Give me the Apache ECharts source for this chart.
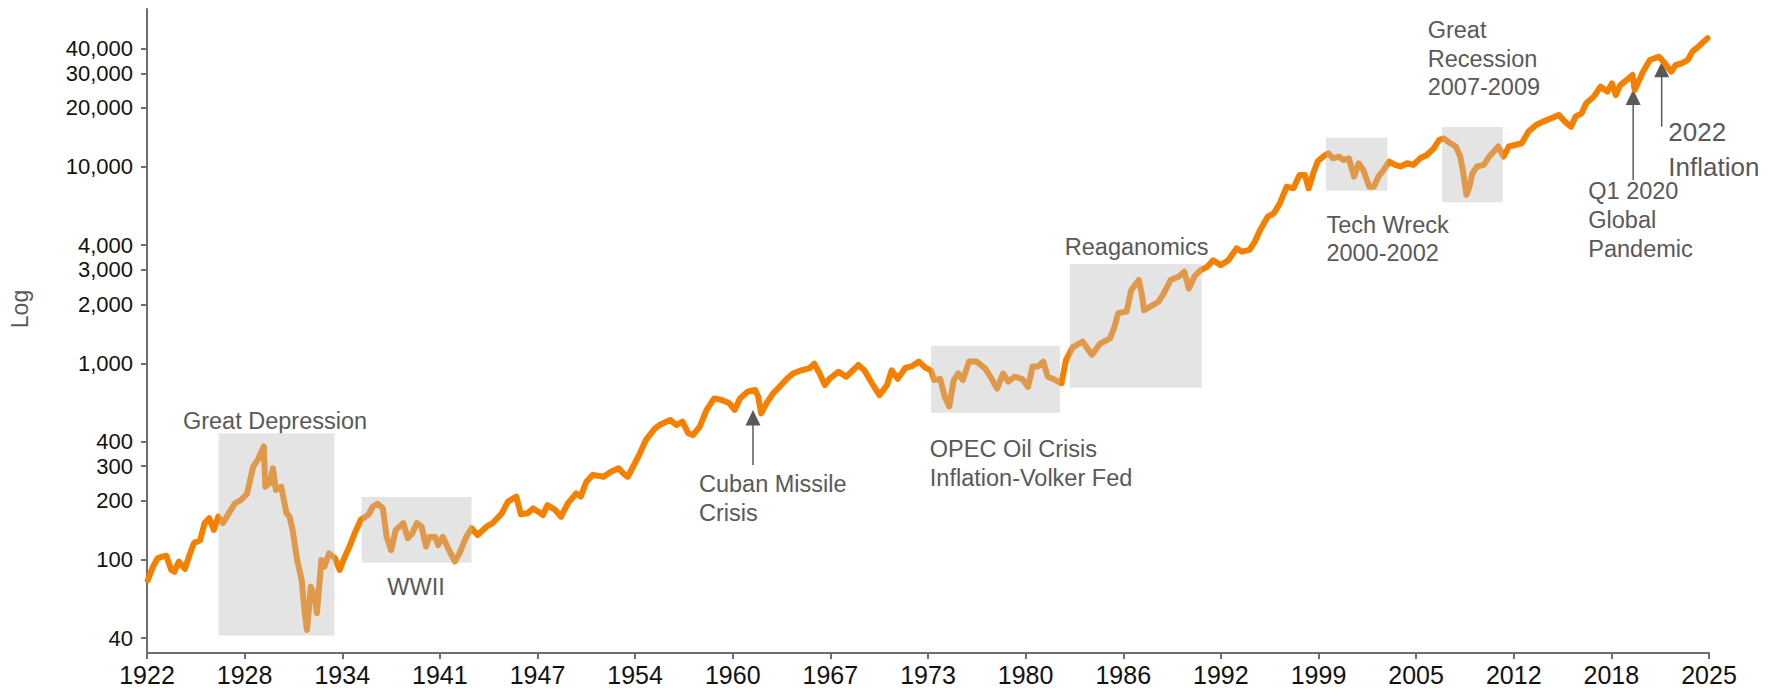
<!DOCTYPE html>
<html><head><meta charset="utf-8">
<script src="https://cdn.jsdelivr.net/npm/echarts@6/dist/echarts.min.js"></script>
<style>html,body{margin:0;padding:0;background:#fff}#c{width:1781px;height:692px}</style>
</head><body><div id="c"></div>
<script>
const years = [
1922.05,1922.4,1922.7,1923.0,1923.27,1923.6,1923.8,1924.1,1924.5,1924.8,
1925.1,1925.5,1925.8,1926.1,1926.4,1926.7,1927.0,1927.4,1927.8,1928.2,
1928.6,1929.0,1929.3,1929.7,1929.8,1930.1,1930.3,1930.5,1930.85,1931.2,
1931.4,1931.6,1931.9,1932.2,1932.4,1932.55,1932.8,1933.05,1933.2,1933.5,
1933.7,1934.0,1934.4,1934.7,1935.0,1935.35,1935.7,1936.1,1936.6,1936.9,
1937.2,1937.55,1937.8,1938.1,1938.4,1938.9,1939.2,1939.5,1939.8,1940.1,
1940.4,1940.6,1941.0,1941.2,1941.5,1941.8,1942.3,1942.6,1943.05,1943.4,
1943.8,1944.4,1944.8,1945.4,1945.8,1946.35,1946.65,1947.1,1947.45,1947.8,
1948.1,1948.4,1948.9,1949.3,1949.75,1950.3,1950.6,1950.97,1951.4,1952.1,
1952.6,1953.1,1953.4,1953.7,1954.05,1954.5,1954.9,1955.5,1955.8,1956.5,
1956.9,1957.3,1957.7,1958.0,1958.45,1958.9,1959.4,1959.9,1960.4,1960.75,
1961.1,1961.6,1962.1,1962.3,1962.5,1962.85,1963.3,1963.7,1964.2,1964.6,
1965.15,1965.7,1966.0,1966.35,1966.7,1967.0,1967.6,1968.1,1968.55,1968.9,
1969.3,1969.8,1970.3,1970.8,1971.1,1971.5,1972.0,1972.4,1972.9,1973.3,
1973.7,1973.9,1974.3,1974.6,1974.9,1975.2,1975.5,1975.8,1976.2,1976.7,
1977.25,1977.7,1978.05,1978.45,1978.8,1979.2,1979.7,1980.1,1980.4,1980.75,
1981.1,1981.4,1981.75,1982.3,1982.6,1983.05,1983.7,1984.3,1984.85,1985.5,
1985.8,1986.05,1986.6,1986.9,1987.4,1987.6,1987.75,1988.15,1988.7,1989.0,
1989.5,1990.05,1990.4,1990.7,1991.1,1991.5,1991.9,1992.3,1992.8,1993.3,
1993.85,1994.2,1994.7,1995.05,1995.4,1995.9,1996.3,1996.7,1997.15,1997.6,
1998.0,1998.35,1998.6,1998.9,1999.2,1999.6,1999.9,2000.2,2000.6,2000.9,
2001.25,2001.6,2001.9,2002.2,2002.6,2002.9,2003.2,2003.55,2003.9,2004.3,
2004.65,2005.1,2005.5,2005.95,2006.4,2006.85,2007.2,2007.5,2007.95,2008.3,
2008.6,2008.8,2009.0,2009.2,2009.4,2009.7,2010.15,2010.5,2010.8,2011.1,
2011.45,2011.8,2012.2,2012.65,2013.1,2013.6,2014.05,2014.6,2015.1,2015.5,
2015.9,2016.2,2016.6,2016.9,2017.4,2017.85,2018.3,2018.6,2018.85,2019.15,
2019.7,2019.95,2020.1,2020.3,2020.65,2021.1,2021.7,2022.0,2022.5,2022.8,
2023.2,2023.6,2023.9,2024.3,2024.65,2024.9
];
const values = [
79,92.5,102,104,105,89,87,98,90,106,
122,126,154,163,142,166,154,173,194,202,
218,298,323,378,236,246,293,227,236,173,
166,142,100,79,53.6,44,73,65,53.6,100,
92.5,108,102,89,102,117,137,160,170,187,
193,183,131,112,142,154,129,137,154,148,
117,131,131,119,131,117,98,108,131,145,
134,148,154,173,198,210,171,173,183,176,
169,190,180,166,194,218,210,250,271,265,
281,293,276,265,298,349,408,467,486,516,
486,506,441,432,477,580,664,652,627,580,
664,718,733,678,557,627,706,760,835,889,
923,948,997,889,777,835,908,856,923,982,
923,793,690,777,923,835,948,966,1022,955,
920,823,835,678,604,823,889,823,1022,1022,
948,835,745,889,809,856,835,760,966,966,
1022,856,835,793,1042,1212,1292,1106,1263,1342,
1537,1805,1840,2360,2660,2240,1866,1945,2062,2240,
2660,2770,2930,2405,2800,2990,3100,3350,3160,3350,
3856,3707,3785,4170,4775,5585,5810,6530,7940,7790,
9100,9100,7790,9290,10700,11370,11750,11070,11280,10860,
11070,8930,10450,9660,7940,7940,8930,9660,10640,10250,
10060,10450,10250,11070,11510,12450,13720,13980,13210,12710,
11280,9290,7210,7940,9290,10060,10250,11280,11960,12710,
11280,12710,12940,13210,15140,16370,17020,17700,18400,17020,
16030,18030,18750,21100,22800,25620,24170,26660,23230,26120,
28250,29400,24660,26660,30550,35060,36430,34360,30550,33050,
33720,35060,38640,40970,43450,45200
];
const xTickLabels = ['1922','1928','1934','1941','1947','1954','1960','1967','1973','1980','1986','1992','1999','2005','2012','2018','2025'];
const yTickValues = [40,100,200,300,400,1000,2000,3000,4000,10000,20000,30000,40000];
// shaded periods: [startYear, endYear, low, high]
const periods = [
  [1926.72, 1934.37, 41.2, 441],
  [1936.15, 1943.4, 96.9, 209],
  [1973.7, 1982.2, 562, 1227],
  [1982.85, 1991.55, 753, 3206],
  [1999.74, 2003.8, 7570, 14090],
  [2007.4, 2011.4, 6610, 15980]
];
const notes = [
  {text:'Great Depression', year:1930.44, value:510, align:'center', va:'middle'},
  {text:'WWII', year:1939.74, value:72.9, align:'center', va:'middle'},
  {text:'Cuban Missile\nCrisis', year:1958.4, value:288, align:'left', va:'top'},
  {text:'OPEC Oil Crisis\nInflation-Volker Fed', year:1973.62, value:432.6, align:'left', va:'top'},
  {text:'Reaganomics', year:1982.52, value:3926, align:'left', va:'middle'},
  {text:'Tech Wreck\n2000-2002', year:1999.77, value:6006, align:'left', va:'top'},
  {text:'Great\nRecession\n2007-2009', year:2006.45, value:58830, align:'left', va:'top'},
  {text:'Q1 2020\nGlobal\nPandemic', year:2017.04, value:8893, align:'left', va:'top'},
  {text:'2022\nInflation', year:2022.32, value:18565, align:'left', va:'top', big:true}
];
const arrows = [
  {year:1961.96, from:304.5, to:580},
  {year:2020.0, from:8590, to:24830},
  {year:2021.88, from:16030, to:34360}
];

const X_MIN = 1922, X_MAX = 2025;
const step = (X_MAX - X_MIN) / (xTickLabels.length - 1);
const xTickPos = xTickLabels.map((_, i) => X_MIN + i * step);
const FONT = '"Liberation Sans", Arial, sans-serif';
const ORANGE = '#F58000', MUTED = '#E0994B', GRAY_TXT = '#595959';

const chart = echarts.init(document.getElementById('c'), null, {renderer: 'svg'});
chart.setOption({
  animation: false,
  backgroundColor: '#fff',
  grid: {left: 147, right: 72, top: 9, bottom: 39, containLabel: false},
  xAxis: {
    type: 'value', min: X_MIN, max: X_MAX,
    axisLine: {onZero: false, lineStyle: {color: '#6e6e6e', width: 2}},
    axisTick: {show: true, length: 6, customValues: xTickPos, lineStyle: {color: '#6e6e6e', width: 2}},
    axisLabel: {customValues: xTickPos, margin: 9, color: '#111', fontSize: 25, fontFamily: FONT,
      formatter: v => xTickLabels[Math.round((v - X_MIN) / step)]},
    splitLine: {show: false}
  },
  yAxis: {
    type: 'log', logBase: 10, min: 33.6, max: 63700,
    axisLine: {show: true, lineStyle: {color: '#6e6e6e', width: 2}},
    axisTick: {show: true, length: 6, customValues: yTickValues, lineStyle: {color: '#6e6e6e', width: 2}},
    axisLabel: {customValues: yTickValues, margin: 14, color: '#111', fontSize: 22, fontFamily: FONT,
      formatter: v => Math.round(v).toLocaleString('en-US')},
    splitLine: {show: false}, minorTick: {show: false}
  },
  visualMap: {
    type: 'piecewise', show: false, dimension: 0, seriesIndex: 1,
    pieces: periods.map(p => ({gte: p[0], lte: p[1], color: MUTED})),
    outOfRange: {color: ORANGE}
  },
  series: [
    {
      type: 'custom', z: 1, silent: true,
      data: periods,
      encode: {x: [0, 1], y: [2, 3]},
      renderItem: (params, api) => {
        const a = api.coord([api.value(0), api.value(3)]);
        const b = api.coord([api.value(1), api.value(2)]);
        return {type: 'rect', shape: {x: a[0], y: a[1], width: b[0] - a[0], height: b[1] - a[1]},
          style: {fill: '#E4E4E4'}};
      }
    },
    {
      type: 'line', z: 2, symbol: 'none', showSymbol: false,
      data: years.map((y, i) => [y, values[i]]),
      lineStyle: {width: 6, join: 'round', cap: 'round'}
    }
  ]
});

const els = [];
notes.forEach(n => {
  const p = chart.convertToPixel({gridIndex: 0}, [n.year, n.value]);
  const fs = n.big ? 26 : 23.5;
  const lh = n.big ? 35 : 28.6;
  els.push({type: 'text', x: p[0], y: p[1], silent: true,
    style: {text: n.text, fill: GRAY_TXT, fontSize: fs, fontFamily: FONT, lineHeight: lh,
      align: n.align, verticalAlign: n.va, textAlign: n.align, textVerticalAlign: n.va}});
});
arrows.forEach(a => {
  const p0 = chart.convertToPixel({gridIndex: 0}, [a.year, a.from]);
  const p1 = chart.convertToPixel({gridIndex: 0}, [a.year, a.to]);
  els.push({type: 'line', silent: true, shape: {x1: p0[0], y1: p0[1], x2: p1[0], y2: p1[1] + 14},
    style: {stroke: GRAY_TXT, lineWidth: 1.5}});
  els.push({type: 'polygon', silent: true,
    shape: {points: [[p1[0], p1[1]], [p1[0] - 7.5, p1[1] + 15.5], [p1[0] + 7.5, p1[1] + 15.5]]},
    style: {fill: GRAY_TXT}});
});
els.push({type: 'text', x: 20, y: 309, rotation: Math.PI / 2, silent: true,
  style: {text: 'Log', fill: GRAY_TXT, fontSize: 23, fontFamily: FONT,
    align: 'center', verticalAlign: 'middle', textAlign: 'center', textVerticalAlign: 'middle'}});
chart.setOption({graphic: {elements: els}});
</script>
</body></html>
